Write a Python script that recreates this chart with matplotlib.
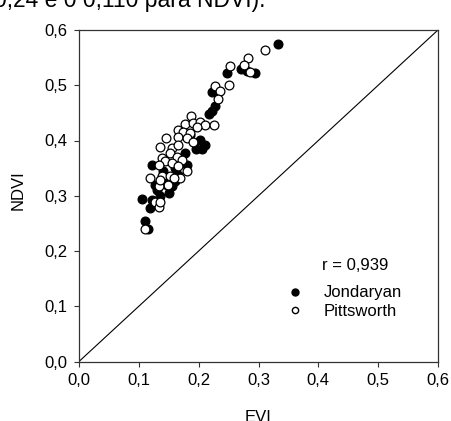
import matplotlib
matplotlib.use("Agg")
import matplotlib.pyplot as plt
from matplotlib.lines import Line2D

plt.rcParams['font.family'] = ['Liberation Sans', 'DejaVu Sans']

# Jondaryan (filled)
jon_evi = [0.333, 0.270, 0.281, 0.294, 0.248, 0.222, 0.227, 0.222, 0.218, 0.202,
           0.211, 0.177, 0.122, 0.144, 0.166, 0.161, 0.127, 0.155, 0.147, 0.105,
           0.122, 0.135, 0.119, 0.110, 0.116, 0.185, 0.170, 0.195, 0.140, 0.180,
           0.160, 0.130, 0.150, 0.205]
jon_ndvi = [0.574, 0.529, 0.525, 0.522, 0.522, 0.487, 0.463, 0.454, 0.448, 0.401,
            0.392, 0.377, 0.356, 0.335, 0.338, 0.326, 0.320, 0.317, 0.320, 0.294,
            0.293, 0.299, 0.278, 0.255, 0.240, 0.410, 0.365, 0.385, 0.345, 0.355,
            0.350, 0.310, 0.305, 0.385]

# Pittsworth (open)
pit_evi = [0.311, 0.283, 0.275, 0.286, 0.2525, 0.251, 0.227, 0.235, 0.233, 0.188,
           0.177, 0.191, 0.202, 0.211, 0.225, 0.197, 0.166, 0.174, 0.186, 0.166,
           0.180, 0.190, 0.145, 0.135, 0.155, 0.166, 0.152, 0.163, 0.172, 0.138,
           0.144, 0.134, 0.155, 0.166, 0.180, 0.119, 0.138, 0.152, 0.169, 0.149,
           0.133, 0.127, 0.133, 0.110, 0.135, 0.158, 0.135]
pit_ndvi = [0.563, 0.549, 0.537, 0.524, 0.534, 0.501, 0.499, 0.489, 0.475, 0.445,
            0.430, 0.432, 0.434, 0.428, 0.428, 0.425, 0.419, 0.416, 0.413, 0.407,
            0.404, 0.398, 0.404, 0.389, 0.386, 0.392, 0.377, 0.371, 0.365, 0.368,
            0.362, 0.356, 0.359, 0.353, 0.344, 0.332, 0.335, 0.335, 0.332, 0.320,
            0.317, 0.288, 0.279, 0.240, 0.329, 0.332, 0.289]

ticks = [0.0, 0.1, 0.2, 0.3, 0.4, 0.5, 0.6]
tick_labels = ['0,0', '0,1', '0,2', '0,3', '0,4', '0,5', '0,6']
r_text = 'r = 0,939'

FS = 12
fig = plt.figure(figsize=(4.51, 4.21), dpi=100)
ax = fig.add_axes([79/451, 1 - 361.5/421, 359/451, 331.5/421])

ax.plot([0, 0.6], [0, 0.6], color='black', lw=0.8, zorder=1)
ax.scatter(jon_evi, jon_ndvi, s=40, facecolor='black', edgecolor='black',
           linewidths=0.9, zorder=2)
ax.scatter(pit_evi, pit_ndvi, s=40, facecolor='white', edgecolor='black',
           linewidths=0.9, zorder=3)

ax.set_xlim(0, 0.6)
ax.set_ylim(0, 0.6)
ax.set_xticks(ticks)
ax.set_xticklabels(tick_labels)
ax.set_yticks(ticks)
ax.set_yticklabels(tick_labels)
ax.tick_params(direction='out', length=3.6, width=0.8, color='#333333',
               labelsize=FS, pad=5)
for sp in ax.spines.values():
    sp.set_linewidth(0.9)
    sp.set_color('#333333')

ax.set_xlabel('EVI', fontsize=FS)
ax.set_ylabel('NDVI', fontsize=FS)
ax.xaxis.set_label_coords(0.5, (361.5 - 410) / 331.5)
ax.yaxis.set_label_coords((18 - 79) / 359, (361.5 - 190) / 331.5)
ax.yaxis.label.set_va('center')

ax.text((322 - 79) / 359, (361.5 - 265) / 331.5, r_text, transform=ax.transAxes,
        fontsize=FS, va='center', ha='left')
handles = [Line2D([], [], marker='o', ls='none', markersize=5,
                  markerfacecolor='black', markeredgecolor='black'),
           Line2D([], [], marker='o', ls='none', markersize=4.5,
                  markerfacecolor='white', markeredgecolor='black')]
ax.legend(handles, ['Jondaryan', 'Pittsworth'], frameon=False,
          loc='center left', bbox_to_anchor=((274 - 79) / 359, (361.5 - 302) / 331.5),
          fontsize=FS, handletextpad=1.0, labelspacing=0.2, borderpad=0,
          handlelength=1.5)

fig.text(-0.014, 1 - 7.5/421, '0,24 e 0 0,110 para NDVI).', fontsize=16.5,
         va='baseline', ha='left')

fig.savefig('out.png', dpi=100)
